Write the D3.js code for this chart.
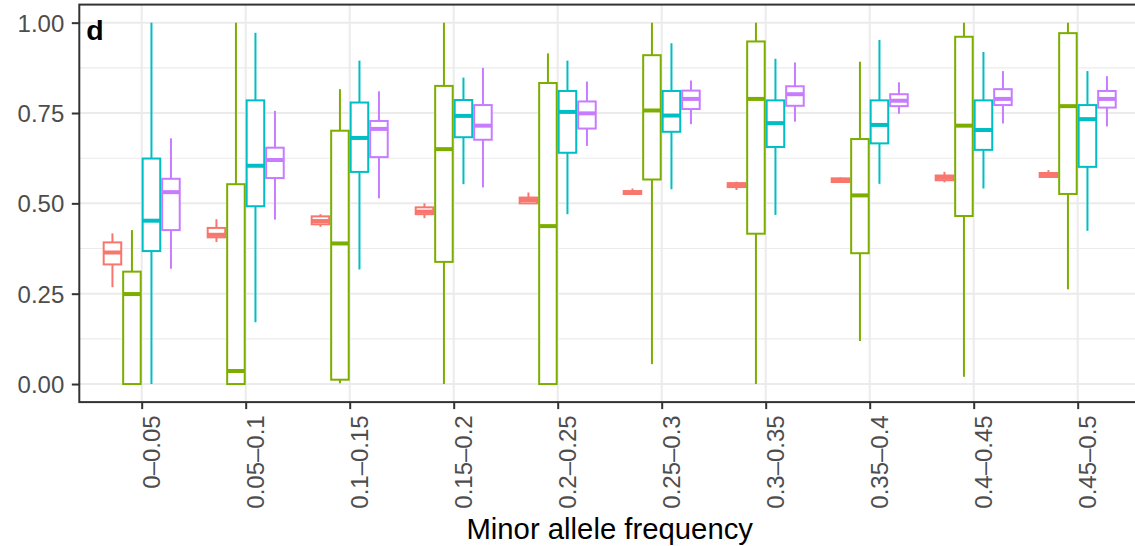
<!DOCTYPE html>
<html>
<head>
<meta charset="utf-8">
<script src="https://cdn.jsdelivr.net/npm/d3@7"></script>
<style>
  html, body { margin: 0; padding: 0; background: #fff; }
  svg { display: block; font-family: "Liberation Sans", Arial, Helvetica, sans-serif; }
</style>
</head>
<body>
<svg id="chart" width="1135" height="546"></svg>
<script>
// ---- data (five-number summaries: [lower whisker, q1, median, q3, upper whisker]) ----
const categories = ["0\u20130.05","0.05\u20130.1","0.1\u20130.15","0.15\u20130.2","0.2\u20130.25",
                    "0.25\u20130.3","0.3\u20130.35","0.35\u20130.4","0.4\u20130.45","0.45\u20130.5"];
const seriesNames = ["A", "B", "C", "D"];
const seriesColors = ["#F8766D", "#7CAE00", "#00BFC4", "#C77CFF"];
const seriesA = [
  [0.268, 0.331, 0.364, 0.392, 0.417],
  [0.393, 0.406, 0.413, 0.432, 0.456],
  [0.435, 0.442, 0.451, 0.464, 0.470],
  [0.459, 0.470, 0.477, 0.489, 0.500],
  [0.498, 0.500, 0.509, 0.516, 0.530],
  [0.524, 0.526, 0.530, 0.534, 0.541],
  [0.537, 0.545, 0.551, 0.556, 0.560],
  [0.557, 0.559, 0.565, 0.569, 0.572],
  [0.558, 0.564, 0.571, 0.577, 0.587],
  [0.572, 0.573, 0.578, 0.584, 0.592]
];
const seriesB = [
  [0.000, 0.000, 0.249, 0.311, 0.426],
  [0.000, 0.000, 0.036, 0.553, 1.000],
  [0.002, 0.012, 0.389, 0.701, 0.816],
  [0.000, 0.338, 0.650, 0.825, 1.000],
  [0.000, 0.000, 0.437, 0.833, 0.915],
  [0.055, 0.566, 0.757, 0.910, 1.000],
  [0.000, 0.416, 0.789, 0.948, 1.000],
  [0.119, 0.362, 0.522, 0.678, 0.892],
  [0.020, 0.465, 0.715, 0.961, 1.000],
  [0.262, 0.526, 0.769, 0.971, 1.000]
];
const seriesC = [
  [0.000, 0.368, 0.452, 0.624, 1.000],
  [0.171, 0.492, 0.604, 0.785, 0.972],
  [0.317, 0.587, 0.681, 0.779, 0.895],
  [0.553, 0.683, 0.742, 0.786, 0.848],
  [0.470, 0.640, 0.753, 0.811, 0.895],
  [0.539, 0.698, 0.743, 0.811, 0.943],
  [0.468, 0.656, 0.722, 0.785, 0.900],
  [0.554, 0.666, 0.717, 0.785, 0.952],
  [0.541, 0.648, 0.703, 0.785, 0.919],
  [0.424, 0.601, 0.733, 0.772, 0.866]
];
const seriesD = [
  [0.319, 0.426, 0.531, 0.568, 0.680],
  [0.455, 0.570, 0.620, 0.654, 0.756],
  [0.514, 0.628, 0.706, 0.728, 0.810],
  [0.544, 0.676, 0.715, 0.772, 0.875],
  [0.659, 0.707, 0.749, 0.782, 0.837],
  [0.719, 0.761, 0.789, 0.812, 0.840],
  [0.726, 0.770, 0.802, 0.824, 0.890],
  [0.748, 0.769, 0.784, 0.802, 0.835],
  [0.721, 0.772, 0.789, 0.816, 0.866],
  [0.713, 0.765, 0.789, 0.811, 0.852]
];
const yTicks = [0, 0.25, 0.5, 0.75, 1];
const yMinorTicks = [0.125, 0.375, 0.625, 0.875];
const xTitle = "Minor allele frequency";
const panelTag = "d";

// ---- layout ----
const svg = d3.select("#chart");
const unit = 104;                       // px per category
const panelLeft = 79.3;
const panelTop = 4.6, panelBottom = 402.1;
const panelRight = panelLeft + 10.2 * unit;

const x = d3.scalePoint()
  .domain(categories)
  .range([panelLeft + 0.6 * unit, panelLeft + 9.6 * unit]);
const y = d3.scaleLinear().domain([-0.05, 1.05]).range([panelBottom, panelTop]);

const dodge = d3.scaleBand()
  .domain(seriesNames)
  .range([-0.375 * unit, 0.375 * unit])
  .paddingInner(0).paddingOuter(0);
const boxW = dodge.bandwidth() * 0.9;

const grid = svg.append("g");
// minor horizontal
grid.selectAll("line.minor").data(yMinorTicks).join("line")
  .attr("x1", panelLeft).attr("x2", panelRight)
  .attr("y1", d => y(d)).attr("y2", d => y(d))
  .attr("stroke", "#EBEBEB").attr("stroke-width", 1.1);
// major horizontal
grid.selectAll("line.majorY").data(yTicks).join("line")
  .attr("x1", panelLeft).attr("x2", panelRight)
  .attr("y1", d => y(d)).attr("y2", d => y(d))
  .attr("stroke", "#EBEBEB").attr("stroke-width", 2);
// major vertical
grid.append("g").selectAll("line").data(categories).join("line")
  .attr("x1", d => x(d)).attr("x2", d => x(d))
  .attr("y1", panelTop).attr("y2", panelBottom)
  .attr("stroke", "#EBEBEB").attr("stroke-width", 2);

// ---- boxes ----
const allSeries = [seriesA, seriesB, seriesC, seriesD];
const records = [];
categories.forEach((c, ci) => {
  allSeries.forEach((s, si) => {
    const v = s[ci];
    records.push({ cat: c, series: seriesNames[si], color: seriesColors[si],
      lo: v[0], q1: v[1], med: v[2], q3: v[3], hi: v[4] });
  });
});

const boxes = svg.append("g").selectAll("g").data(records).join("g")
  .attr("transform", d => `translate(${x(d.cat) + dodge(d.series) + dodge.bandwidth() / 2},0)`);

boxes.append("line")
  .attr("x1", 0).attr("x2", 0)
  .attr("y1", d => y(d.q3)).attr("y2", d => y(d.hi))
  .attr("stroke", d => d.color).attr("stroke-width", 2);
boxes.append("line")
  .attr("x1", 0).attr("x2", 0)
  .attr("y1", d => y(d.q1)).attr("y2", d => y(d.lo))
  .attr("stroke", d => d.color).attr("stroke-width", 2);
boxes.append("rect")
  .attr("x", -boxW / 2).attr("width", boxW)
  .attr("y", d => y(d.q3)).attr("height", d => Math.max(0, y(d.q1) - y(d.q3)))
  .attr("fill", "#fff").attr("stroke", d => d.color).attr("stroke-width", 2);
boxes.append("line")
  .attr("x1", -boxW / 2).attr("x2", boxW / 2)
  .attr("y1", d => y(d.med)).attr("y2", d => y(d.med))
  .attr("stroke", d => d.color).attr("stroke-width", 4);

// ---- panel border ----
svg.append("rect")
  .attr("x", panelLeft).attr("y", panelTop)
  .attr("width", panelRight - panelLeft).attr("height", panelBottom - panelTop)
  .attr("fill", "none").attr("stroke", "#333333").attr("stroke-width", 2);

// ---- axes ----
const yAxis = svg.append("g")
  .attr("transform", `translate(${panelLeft},0)`)
  .call(d3.axisLeft(y).tickValues(yTicks).tickFormat(d3.format(".2f")).tickSize(7.5).tickPadding(7.5));
yAxis.select(".domain").remove();
yAxis.selectAll(".tick line").attr("stroke", "#333333").attr("stroke-width", 2);
yAxis.selectAll(".tick text")
  .attr("fill", "#4D4D4D").attr("dy", "0.36em")
  .style("font-size", "24px").style("font-family", "'Liberation Sans', Arial, sans-serif");

const xAxis = svg.append("g")
  .attr("transform", `translate(0,${panelBottom})`)
  .call(d3.axisBottom(x).tickSize(7));
xAxis.select(".domain").remove();
xAxis.selectAll(".tick line").attr("stroke", "#333333").attr("stroke-width", 2);
xAxis.selectAll(".tick text")
  .attr("fill", "#4D4D4D")
  .attr("transform", "rotate(-90)")
  .attr("x", -13.2).attr("y", 17.6).attr("dy", 0)
  .style("text-anchor", "end")
  .style("font-size", "24px").style("font-family", "'Liberation Sans', Arial, sans-serif");

// ---- titles ----
svg.append("text")
  .attr("x", (panelLeft + panelRight) / 2).attr("y", 539)
  .attr("text-anchor", "middle")
  .attr("fill", "#000")
  .style("font-size", "29.3px")
  .text(xTitle);

svg.append("text")
  .attr("x", 86.2).attr("y", 39.5)
  .attr("fill", "#000")
  .style("font-size", "28.5px").style("font-weight", "bold")
  .text(panelTag);
</script>
</body>
</html>
